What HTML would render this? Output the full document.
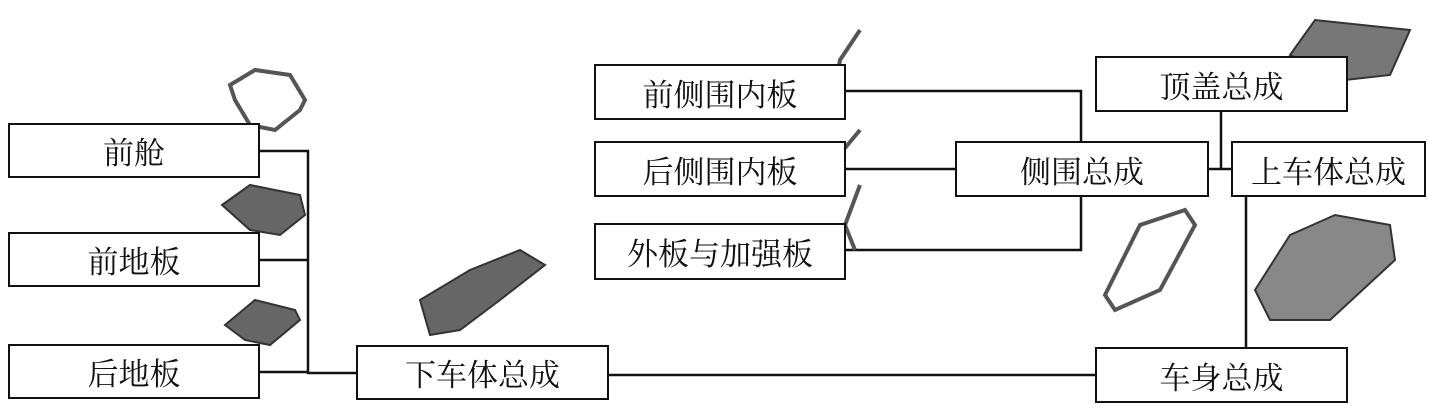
<!DOCTYPE html>
<html><head><meta charset="utf-8"><style>
body{margin:0;background:#fff;}
.c{position:relative;width:1429px;height:410px;overflow:hidden;background:#fff;font-family:"Liberation Serif","Noto Serif CJK SC",serif;}
.b{position:absolute;border:2.5px solid #111;box-sizing:border-box;display:flex;align-items:center;justify-content:center;font-size:31px;color:#111;background:#fff;}
svg{position:absolute;left:0;top:0;}
</style></head><body><div class="c">
<svg width="1429" height="410">
<g stroke="#111" stroke-width="2.5" fill="none">
<polyline points="260,151 308,151 308,373 356,373"/>
<line x1="260" y1="260" x2="308" y2="260"/>
<line x1="260" y1="372" x2="308" y2="372"/>
<line x1="609" y1="375" x2="1095" y2="375"/>
<polyline points="846,91 1081,91 1081,141"/>
<line x1="846" y1="169" x2="955" y2="169"/>
<polyline points="846,250 1081,250 1081,197"/>
<polyline points="1221,112 1221,169"/>
<line x1="1209" y1="169" x2="1231" y2="169"/>
<line x1="1246" y1="197" x2="1246" y2="347"/>
</g>
<g fill="#666" stroke="#333" stroke-width="2">
<polygon points="230,85 255,70 290,75 305,100 300,110 275,130 250,125 235,100" fill="none" stroke-width="4" stroke="#555"/>
<polygon points="222,205 250,185 300,195 305,215 280,235 250,230" />
<polygon points="225,325 255,300 295,310 300,320 270,345 245,340" />
<polygon points="420,300 470,270 520,250 545,265 500,300 460,330 430,335" />
<polygon points="1290,55 1315,20 1410,30 1390,75 1345,80" fill="#777"/>
<polygon points="1105,295 1140,225 1185,210 1195,225 1160,290 1115,310" fill="none" stroke-width="4" stroke="#555"/>
<polygon points="1255,290 1290,235 1335,215 1390,225 1395,260 1330,320 1270,320" fill="#888"/>
<path d="M835,90 L840,60 L860,30 M860,130 L835,160 L840,185 M860,185 L845,225 L855,250" fill="none" stroke-width="4" stroke="#555"/>
</g>
</svg>
<div class="b" style="left:8px;top:123px;width:252px;height:55px">前舱</div>
<div class="b" style="left:8px;top:232px;width:252px;height:55px">前地板</div>
<div class="b" style="left:8px;top:344px;width:252px;height:55px">后地板</div>
<div class="b" style="left:356px;top:345px;width:253px;height:55px">下车体总成</div>
<div class="b" style="left:1095px;top:347px;width:253px;height:56px">车身总成</div>
<div class="b" style="left:594px;top:64px;width:252px;height:56px">前侧围内板</div>
<div class="b" style="left:594px;top:141px;width:252px;height:56px">后侧围内板</div>
<div class="b" style="left:594px;top:223px;width:252px;height:57px">外板与加强板</div>
<div class="b" style="left:955px;top:141px;width:254px;height:56px">侧围总成</div>
<div class="b" style="left:1095px;top:56px;width:253px;height:56px">顶盖总成</div>
<div class="b" style="left:1231px;top:141px;width:195px;height:56px">上车体总成</div>
</div></body></html>
